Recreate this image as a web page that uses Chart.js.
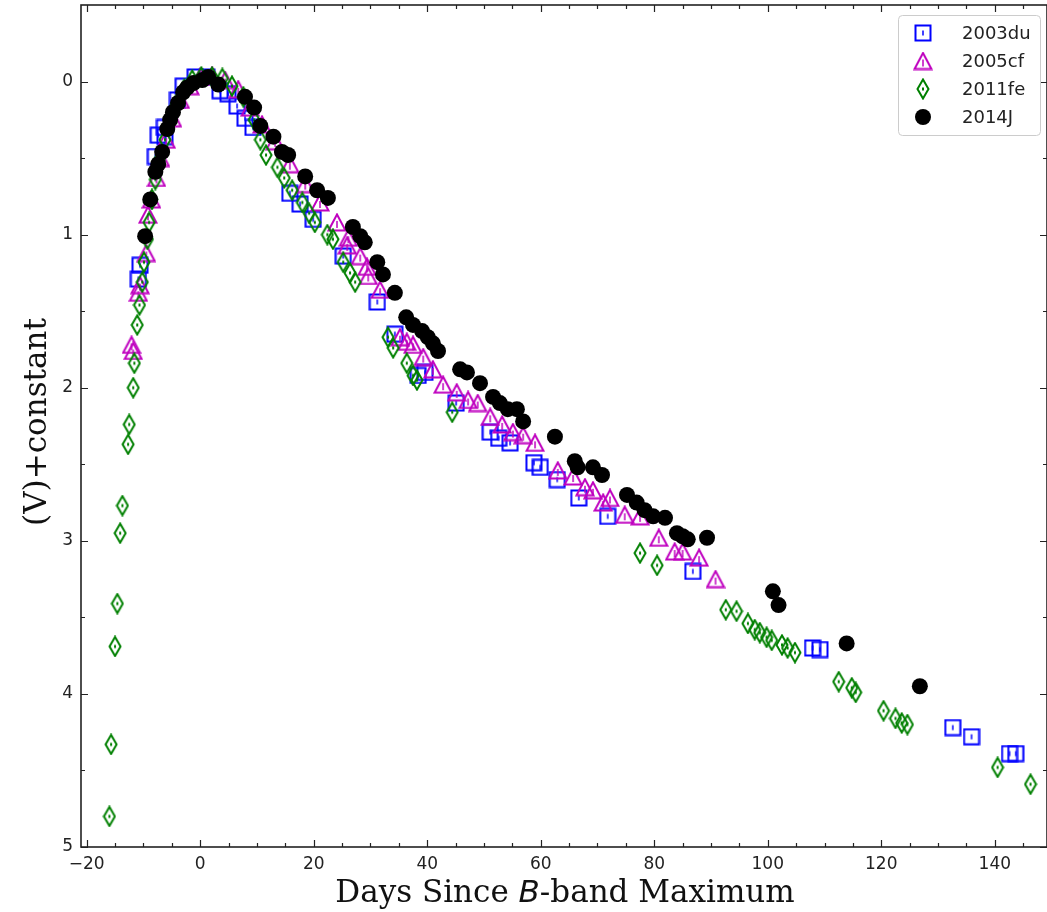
<!DOCTYPE html>
<html lang="en">
<head>
    <meta charset="UTF-8">
    <title>V-band light curves</title>
    <script src="https://cdn.jsdelivr.net/npm/chart.js"></script>
    <style>
        html, body { margin: 0; padding: 0; background: #fff; overflow: hidden; }
        #lcChart { display: block; }
    </style>
</head>
<body>
    <canvas id="lcChart" width="1047" height="912"></canvas>

    <script>
        // ---- data (days since B max, V + constant) ----
        const names = ['2003du', '2005cf', '2011fe', '2014J'];

        const days03du = [-10.9, -10.6, -7.9, -7.4, -6.3, -6.2, -4.0, -3.0, -0.9, 1.2, 3.5, 4.9, 6.5, 7.9, 9.3,
            15.8, 17.6, 19.9, 25.2, 31.2, 34.3, 38.4, 39.6, 45.1, 51.1, 52.6, 54.6, 58.8, 59.9, 62.9, 66.7,
            71.8, 86.8, 107.9, 109.2, 132.6, 135.9, 142.6, 143.7];
        const mag03du = [1.29, 1.20, 0.49, 0.35, 0.30, 0.36, 0.12, 0.03, -0.03, -0.03, 0.06, 0.08, 0.16, 0.24, 0.30,
            0.73, 0.80, 0.90, 1.14, 1.44, 1.65, 1.92, 1.90, 2.10, 2.29, 2.33, 2.36, 2.49, 2.52, 2.60, 2.72,
            2.84, 3.20, 3.70, 3.71, 4.22, 4.28, 4.39, 4.39];

        const days05cf = [-12.1, -11.8, -10.9, -10.6, -9.5, -9.2, -8.6, -7.7, -7.0, -6.0, -4.9, -3.5, -1.8, 0.0,
            2.1, 4.4, 6.7, 8.8, 10.9, 13.2, 15.8, 18.5, 21.1, 24.1, 25.9, 26.1, 28.2, 29.4, 29.6, 31.7,
            35.2, 36.4, 37.5, 39.3, 41.0, 42.8, 45.2, 47.2, 48.9, 51.1, 53.2, 55.1, 56.9, 59.0, 63.0, 65.7,
            67.8, 69.2, 71.0, 72.2, 74.8, 77.5, 80.8, 83.6, 85.0, 87.9, 90.8];
        const mag05cf = [1.72, 1.76, 1.38, 1.33, 1.12, 0.87, 0.77, 0.63, 0.50, 0.38, 0.24, 0.12, 0.03, -0.03,
            -0.04, -0.01, 0.05, 0.17, 0.28, 0.39, 0.54, 0.67, 0.79, 0.92, 1.07, 1.02, 1.14, 1.21, 1.27, 1.36,
            1.67, 1.70, 1.72, 1.80, 1.88, 1.98, 2.03, 2.08, 2.10, 2.19, 2.24, 2.29, 2.31, 2.36, 2.54, 2.58,
            2.65, 2.67, 2.75, 2.72, 2.83, 2.84, 2.98, 3.07, 3.07, 3.11, 3.25];

        const days11fe = [-16.0, -15.7, -15.0, -14.6, -14.1, -13.7, -12.7, -12.5, -11.8, -11.6, -11.1, -10.7,
            -10.2, -9.9, -9.3, -9.0, -8.5, -7.9, -7.2, -6.2, -5.3, -4.2, -2.8, -1.4, 0.2, 2.1, 3.9, 5.6, 7.6,
            9.5, 10.6, 11.6, 13.6, 14.8, 16.2, 18.0, 19.2, 20.2, 22.4, 23.4, 25.2, 26.4, 27.3, 33.1, 34.0,
            36.4, 37.5, 38.2, 44.4, 77.5, 80.5, 92.6, 94.5, 96.5, 97.7, 98.6, 99.8, 100.7, 102.5, 103.5,
            104.8, 112.5, 114.8, 115.5, 120.4, 122.5, 123.6, 124.6, 140.5, 146.3];
        const mag11fe = [4.80, 4.33, 3.69, 3.41, 2.95, 2.77, 2.37, 2.24, 2.00, 1.84, 1.59, 1.46,
            1.31, 1.18, 1.03, 0.92, 0.77, 0.64, 0.51, 0.38, 0.26, 0.15, 0.05, -0.01, -0.03, -0.03, -0.02, 0.03, 0.10,
            0.25, 0.38, 0.48, 0.56, 0.63, 0.71, 0.79, 0.86, 0.92, 1.00, 1.03, 1.18, 1.25, 1.31, 1.67, 1.74,
            1.84, 1.92, 1.95, 2.16, 3.08, 3.16, 3.45, 3.46, 3.54, 3.58, 3.60, 3.63, 3.65, 3.68, 3.70,
            3.73, 3.92, 3.96, 3.99, 4.11, 4.16, 4.19, 4.20, 4.48, 4.59];

        const days14J = [-9.7, -8.8, -7.9, -7.4, -6.7, -5.8, -5.3, -4.8, -3.9, -3.0, -2.3, -1.2, 0.4, 1.4, 3.2,
            7.9, 9.5, 10.6, 12.9, 14.4, 15.5, 18.5, 20.6, 22.5, 26.9, 28.2, 29.0, 31.2, 32.2, 34.3, 36.3,
            37.5, 39.1, 40.1, 41.0, 41.9, 45.8, 47.0, 49.3, 51.6, 52.8, 54.2, 55.8, 56.9, 62.5, 66.0, 66.5,
            69.2, 70.8, 75.2, 76.9, 78.3, 79.8, 81.9, 84.0, 85.0, 85.9, 89.3, 100.9, 101.9, 113.9, 126.8];
        const mag14J = [1.01, 0.77, 0.59, 0.54, 0.46, 0.31, 0.25, 0.20, 0.14, 0.07, 0.04, 0.01, -0.01, -0.03, 0.02,
            0.10, 0.17, 0.29, 0.36, 0.46, 0.48, 0.62, 0.71, 0.76, 0.95, 1.01, 1.05, 1.18, 1.26, 1.38, 1.54,
            1.59, 1.63, 1.67, 1.71, 1.76, 1.88, 1.90, 1.97, 2.06, 2.10, 2.14, 2.14, 2.22, 2.32, 2.48, 2.52,
            2.52, 2.57, 2.70, 2.75, 2.80, 2.84, 2.85, 2.95, 2.97, 2.99, 2.98, 3.33, 3.42, 3.67, 3.95];

        const xTicks = [-20, 0, 20, 40, 60, 80, 100, 120, 140];
        const yTicks = [0, 1, 2, 3, 4, 5];

        const BLUE = '#0000ff', MAGENTA = '#bf00bf', GREEN = '#008000', BLACK = '#000000';

        // open markers with a small error bar inside
        function makeMarker(shape, color) {
            const c = document.createElement('canvas');
            const dims = { square: [18, 18], triangle: [20, 19], diamond: [14, 22] }[shape];
            c.width = dims[0]; c.height = dims[1];
            const g = c.getContext('2d');
            g.strokeStyle = color; g.fillStyle = color;
            if (shape === 'square') {
                g.lineWidth = 2;
                g.strokeRect(1.5, 1.5, 15, 15);
                g.lineWidth = 1.5;
                g.beginPath(); g.moveTo(9, 6.5); g.lineTo(9, 11.5); g.stroke();
            } else if (shape === 'triangle') {
                g.lineWidth = 2;
                g.beginPath(); g.moveTo(10, 1.5); g.lineTo(18.5, 17.5); g.lineTo(1.5, 17.5); g.closePath(); g.stroke();
                g.lineWidth = 1.5;
                g.beginPath(); g.moveTo(10, 8); g.lineTo(10, 15); g.stroke();
            } else {
                g.lineWidth = 2;
                g.beginPath(); g.moveTo(7, 1.5); g.lineTo(12.5, 11); g.lineTo(7, 20.5); g.lineTo(1.5, 11); g.closePath(); g.stroke();
                g.fillRect(6, 9.5, 2, 3);
            }
            return c;
        }

        const markers = {
            '2003du': makeMarker('square', BLUE),
            '2005cf': makeMarker('triangle', MAGENTA),
            '2011fe': makeMarker('diamond', GREEN)
        };

        function pts(xs, ys) {
            return xs.map((x, i) => ({ x: x, y: ys[i] }));
        }

        // frame with inward major/minor ticks on all four sides
        const framePlugin = {
            id: 'frame',
            afterDatasetsDraw(chart) {
                const { ctx, chartArea: a, scales: { x, y } } = chart;
                ctx.save();
                ctx.strokeStyle = '#222';
                ctx.lineWidth = 1.2;
                for (let v = -20; v <= 145; v += 5) {
                    const px = Math.round(x.getPixelForValue(v)) + 0.5;
                    const len = v % 20 === 0 ? 7 : 4;
                    ctx.beginPath();
                    ctx.moveTo(px, a.bottom); ctx.lineTo(px, a.bottom - len);
                    ctx.moveTo(px, a.top); ctx.lineTo(px, a.top + len);
                    ctx.stroke();
                }
                for (let v = 0; v <= 5; v += 0.5) {
                    const py = Math.round(y.getPixelForValue(v)) + 0.5;
                    const len = v % 1 === 0 ? 7 : 4;
                    ctx.beginPath();
                    ctx.moveTo(a.left, py); ctx.lineTo(a.left + len, py);
                    ctx.moveTo(a.right, py); ctx.lineTo(a.right - len, py);
                    ctx.stroke();
                }
                ctx.lineWidth = 1.6;
                ctx.strokeRect(a.left, a.top, a.right - a.left, a.bottom - a.top);
                ctx.restore();
            }
        };

        // axis titles (x title mixes serif with an italic B)
        const titlePlugin = {
            id: 'titles',
            afterDraw(chart) {
                const { ctx } = chart;
                ctx.save();
                ctx.fillStyle = '#111';
                ctx.textBaseline = 'alphabetic';
                const serif = '31px "DejaVu Serif"';
                const ital = 'italic 31px "DejaVu Sans"';
                const parts = [['Days Since ', serif], ['B', ital], ['-band Maximum', serif]];
                let total = 0;
                parts.forEach(p => { ctx.font = p[1]; total += ctx.measureText(p[0]).width; });
                let tx = 565 - total / 2;
                parts.forEach(p => {
                    ctx.font = p[1];
                    ctx.fillText(p[0], tx, 902);
                    tx += ctx.measureText(p[0]).width;
                });
                ctx.translate(38, 422);
                ctx.rotate(-Math.PI / 2);
                ctx.font = serif;
                ctx.textAlign = 'center';
                ctx.textBaseline = 'middle';
                ctx.fillText('(V)+constant', 0, 0);
                ctx.restore();
            }
        };

        // boxed legend in the upper right corner
        const legendPlugin = {
            id: 'boxLegend',
            afterDraw(chart) {
                const ctx = chart.ctx;
                ctx.save();
                ctx.fillStyle = 'rgba(255,255,255,0.85)';
                ctx.strokeStyle = '#cccccc';
                ctx.lineWidth = 1;
                ctx.beginPath();
                ctx.roundRect(898.5, 15.5, 142, 120, 4);
                ctx.fill(); ctx.stroke();
                ctx.font = '18px "DejaVu Sans"';
                ctx.textBaseline = 'middle';
                ctx.fillStyle = '#222';
                names.forEach((n, i) => {
                    const cy = 33 + i * 28;
                    if (markers[n]) {
                        const m = markers[n];
                        ctx.drawImage(m, 923 - m.width / 2, cy - m.height / 2);
                    } else {
                        ctx.save();
                        ctx.fillStyle = BLACK;
                        ctx.beginPath(); ctx.arc(923, cy, 8, 0, Math.PI * 2); ctx.fill();
                        ctx.restore();
                    }
                    ctx.fillText(n, 962, cy + 1);
                });
                ctx.restore();
            }
        };

        new Chart(document.getElementById('lcChart'), {
            type: 'scatter',
            data: {
                datasets: [
                    { label: '2003du', data: pts(days03du, mag03du), pointStyle: markers['2003du'], order: 4 },
                    { label: '2005cf', data: pts(days05cf, mag05cf), pointStyle: markers['2005cf'], order: 3 },
                    { label: '2011fe', data: pts(days11fe, mag11fe), pointStyle: markers['2011fe'], order: 2 },
                    { label: '2014J', data: pts(days14J, mag14J), pointStyle: 'circle', pointRadius: 8,
                      backgroundColor: BLACK, borderColor: BLACK, borderWidth: 0, order: 1 }
                ]
            },
            options: {
                responsive: false,
                animation: false,
                events: [],
                layout: { autoPadding: false, padding: { top: 5, right: 0, left: 0, bottom: 0 } },
                plugins: { legend: { display: false }, tooltip: { enabled: false } },
                scales: {
                    x: {
                        type: 'linear', min: -21, max: 149.2,
                        afterBuildTicks: s => { s.ticks = xTicks.map(v => ({ value: v })); },
                        afterFit: s => { s.height = 65; s.paddingLeft = 0; s.paddingRight = 0; },
                        grid: { display: false, drawTicks: false, tickLength: 0 }, border: { display: false },
                        ticks: {
                            autoSkip: false, maxRotation: 0, padding: 7, color: '#222',
                            font: { family: 'DejaVu Sans', size: 17 },
                            callback: v => v < 0 ? '\u2212' + Math.abs(v) : String(v)
                        }
                    },
                    y: {
                        type: 'linear', reverse: true, min: -0.5, max: 5,
                        afterBuildTicks: s => { s.ticks = yTicks.map(v => ({ value: v })); },
                        afterFit: s => { s.width = 81; s.paddingTop = 0; s.paddingBottom = 0; },
                        grid: { display: false, drawTicks: false, tickLength: 0 }, border: { display: false },
                        ticks: {
                            padding: 8, color: '#222',
                            font: { family: 'DejaVu Sans', size: 17 }
                        }
                    }
                }
            },
            plugins: [framePlugin, titlePlugin, legendPlugin]
        });
    </script>
</body>
</html>
